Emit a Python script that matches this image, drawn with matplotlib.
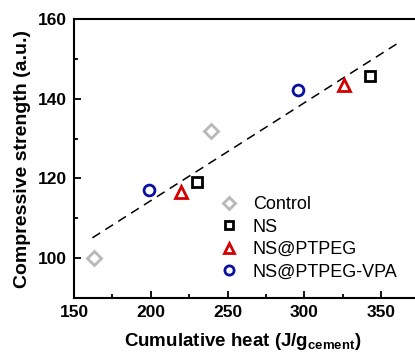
import numpy as np
import matplotlib
matplotlib.use("Agg")
import matplotlib.pyplot as plt

plt.rcParams["font.family"] = ["Liberation Sans", "DejaVu Sans"]
plt.rcParams["mathtext.fontset"] = "custom"
plt.rcParams["mathtext.rm"] = "Liberation Sans:bold"
plt.rcParams["mathtext.bf"] = "Liberation Sans:bold"

# Data

groups = ["Control", "NS", "NS@PTPEG", "NS@PTPEG-VPA"]
heat = {
    "Control": [163, 239],
    "NS": [230, 343],
    "NS@PTPEG": [220, 326],
    "NS@PTPEG-VPA": [199, 296],
}
strength = {
    "Control": [100.0, 131.8],
    "NS": [119.2, 145.6],
    "NS@PTPEG": [116.6, 143.5],
    "NS@PTPEG-VPA": [117.2, 142.2],
}
fit_x = [162, 362]
fit_y = [105.1, 154.2]

styles = {
    "Control": dict(marker="D", color="#b8b8b8", ms=6.8),
    "NS": dict(marker="s", color="black", ms=6.5),
    "NS@PTPEG": dict(marker="^", color="#d40000", ms=9.0),
    "NS@PTPEG-VPA": dict(marker="o", color="#0a10a0", ms=7.8),
}

# Figure

fig = plt.figure(figsize=(4.15, 3.52), dpi=100)
ax = fig.add_axes([74 / 415, 1 - 298 / 352, 345.5 / 415, 279 / 352])

ax.plot(fit_x, fit_y, color="black", lw=1.1, dashes=(6, 4), zorder=1)

for g in groups:
    st = styles[g]
    ax.plot(heat[g], strength[g], linestyle="none", marker=st["marker"],
            markersize=st["ms"],
            markerfacecolor="white", markeredgecolor=st["color"],
            markeredgewidth=2.0, label=g, zorder=3)

ax.set_xlim(150, 375)
ax.set_ylim(90, 160)
ax.set_xticks([150, 200, 250, 300, 350])
ax.set_xticks([175, 225, 275, 325, 375], minor=True)
ax.set_yticks([100, 120, 140, 160])
ax.set_yticks([110, 130, 150], minor=True)

ax.tick_params(which="both", direction="in", width=1.3, labelsize=12.5, pad=5)
ax.tick_params(which="major", length=5)
ax.tick_params(which="minor", length=3)
for lab in ax.get_xticklabels() + ax.get_yticklabels():
    lab.set_fontweight("bold")
for sp in ax.spines.values():
    sp.set_linewidth(1.5)

ax.set_xlabel(r"Cumulative heat (J/g$_{\mathbf{cement}}$)", fontsize=13.5,
              fontweight="bold")
ax.xaxis.set_label_coords(0.487, -0.118)
ax.xaxis.label.set_verticalalignment("top")
ax.set_ylabel("Compressive strength (a.u.)", fontsize=14, fontweight="bold",
              labelpad=5)

fig.legend(loc="upper left", bbox_to_anchor=(215 / 415, 1 - 189 / 352),
           frameon=False, fontsize=13, handletextpad=0.9, markerscale=0.85,
           labelspacing=0.3, handlelength=0.8, borderaxespad=0)

fig.savefig("out.png", dpi=100)
